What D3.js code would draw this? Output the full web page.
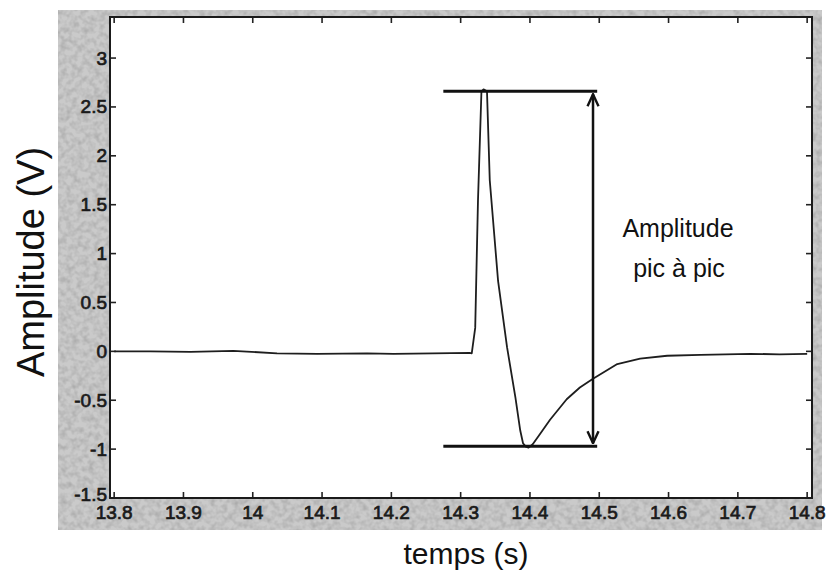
<!DOCTYPE html>
<html>
<head>
<meta charset="utf-8">
<script src="https://cdnjs.cloudflare.com/ajax/libs/d3/7.8.5/d3.min.js"></script>
<style>
body { margin: 0; background: #fff; }
svg { display: block; font-family: "Liberation Sans", Arial, sans-serif; }
</style>
</head>
<body>
<svg></svg>
<script>

// signal (time in s, amplitude in V)
var timeS = [13.800, 13.852, 13.910, 13.972, 14.035, 14.093, 14.165, 14.203, 14.260, 14.313, 14.316,
  14.321, 14.325, 14.330, 14.333, 14.338,
  14.342, 14.354, 14.367, 14.379, 14.386, 14.390, 14.394, 14.398,
  14.404, 14.413, 14.429, 14.453, 14.472, 14.491, 14.526, 14.559, 14.598, 14.646, 14.718, 14.760, 14.800]
var amplitudeV = [0.00, 0.00, -0.005, 0.005, -0.02, -0.025, -0.02, -0.025, -0.02, -0.015, -0.02,
  0.24, 1.54, 2.66, 2.68, 2.66,
  1.75, 0.72, 0.04, -0.47, -0.81, -0.94, -0.975, -0.985,
  -0.95, -0.86, -0.70, -0.49, -0.37, -0.28, -0.13, -0.075, -0.045, -0.035, -0.025, -0.03, -0.025]

var xTicks = [13.8, 13.9, 14.0, 14.1, 14.2, 14.3, 14.4, 14.5, 14.6, 14.7, 14.8]
var xTickLabels = ["13.8", "13.9", "14", "14.1", "14.2", "14.3", "14.4", "14.5", "14.6", "14.7", "14.8"]
var yTicks = [-1.5, -1, -0.5, 0, 0.5, 1, 1.5, 2, 2.5, 3]
var yTickLabels = ["-1.5", "-1", "-0.5", "0", "0.5", "1", "1.5", "2", "2.5", "3"]

// peak-to-peak annotation
var peakLevel = 2.66
var troughLevel = -0.97
var bracketStart = 14.275
var bracketEnd = 14.497
var arrowTime = 14.491

var W = 828, H = 580
var margins = {"top": 17, "left": 110, "bottom": 82, "right": 16}
var width = W - margins.left - margins.right
var height = H - margins.top - margins.bottom

var xScale = d3.scaleLinear().domain([13.794, 14.807]).range([0, width])
var yScale = d3.scaleLinear().domain([-1.5, 3.42]).range([height, 0])

var svg = d3.select("svg").attr("width", W).attr("height", H)

var defs = svg.append("defs")
var grain = defs.append("filter").attr("id", "grain")
  .attr("x", 0).attr("y", 0).attr("width", "100%").attr("height", "100%")
grain.append("feTurbulence").attr("type", "fractalNoise")
  .attr("baseFrequency", 0.18).attr("numOctaves", 2).attr("seed", 7)
grain.append("feColorMatrix").attr("type", "matrix")
  .attr("values", "0 0 0 0 0.4  0 0 0 0 0.4  0 0 0 0 0.4  1.8 0 0 0 -0.66")

defs.append("marker").attr("id", "head")
  .attr("viewBox", "0 0 14 14").attr("refX", 13).attr("refY", 7)
  .attr("markerWidth", 14).attr("markerHeight", 14)
  .attr("markerUnits", "userSpaceOnUse").attr("orient", "auto-start-reverse")
  .append("path").attr("d", "M1,1.5 L13,7 L1,12.5")
  .attr("fill", "none").attr("stroke", "#111").attr("stroke-width", 2.4)

// scanned grey frame round the axes
svg.append("rect").attr("x", 58).attr("y", 10).attr("width", W - 64).attr("height", 520)
  .attr("fill", "#cacaca")
svg.append("rect").attr("x", 58).attr("y", 10).attr("width", W - 64).attr("height", 520)
  .attr("filter", "url(#grain)")

var g = svg.append("g").attr("transform", "translate(" + margins.left + "," + margins.top + ")")

g.append("rect").attr("width", width).attr("height", height).attr("fill", "#fff")

// ticks on all four sides, pointing in
var tickLen = 6
g.append("g").selectAll("line").data(xTicks).enter().append("line")
  .attr("x1", function(d){return xScale(d)}).attr("x2", function(d){return xScale(d)})
  .attr("y1", height).attr("y2", height - tickLen)
g.append("g").selectAll("line").data(xTicks).enter().append("line")
  .attr("x1", function(d){return xScale(d)}).attr("x2", function(d){return xScale(d)})
  .attr("y1", 0).attr("y2", tickLen)
g.append("g").selectAll("line").data(yTicks).enter().append("line")
  .attr("x1", 0).attr("x2", tickLen)
  .attr("y1", function(d){return yScale(d)}).attr("y2", function(d){return yScale(d)})
g.append("g").selectAll("line").data(yTicks).enter().append("line")
  .attr("x1", width).attr("x2", width - tickLen)
  .attr("y1", function(d){return yScale(d)}).attr("y2", function(d){return yScale(d)})
g.selectAll("g line").attr("stroke", "#222").attr("stroke-width", 1.6)

g.append("rect").attr("width", width).attr("height", height)
  .attr("fill", "none").attr("stroke", "#1a1a1a").attr("stroke-width", 2)

// tick labels look heavy in the scan, so a thin stroke thickens them
g.append("g").selectAll("text").data(xTicks).enter().append("text")
  .attr("x", function(d){return xScale(d)}).attr("y", height + 21)
  .attr("text-anchor", "middle").attr("font-size", 19)
  .attr("fill", "#1a1a1a").attr("stroke", "#1a1a1a").attr("stroke-width", 0.7)
  .text(function(d, i){return xTickLabels[i]})

g.append("g").selectAll("text").data(yTicks).enter().append("text")
  .attr("x", -3).attr("y", function(d, i){return yScale(d) + (i == 0 ? 3 : 6.5)})
  .attr("text-anchor", "end").attr("font-size", 19)
  .attr("fill", "#1a1a1a").attr("stroke", "#1a1a1a").attr("stroke-width", 0.7)
  .text(function(d, i){return yTickLabels[i]})

// the signal
var signal = timeS.map(function(t, i){return [t, amplitudeV[i]]})
var line = d3.line().x(function(d){return xScale(d[0])}).y(function(d){return yScale(d[1])})
g.append("path").datum(signal).attr("d", line)
  .attr("fill", "none").attr("stroke", "#1e1e1e").attr("stroke-width", 1.8)
  .attr("stroke-linejoin", "round")

// peak-to-peak bracket
g.append("line").attr("x1", xScale(bracketStart)).attr("x2", xScale(bracketEnd))
  .attr("y1", yScale(peakLevel)).attr("y2", yScale(peakLevel))
  .attr("stroke", "#111").attr("stroke-width", 3)
g.append("line").attr("x1", xScale(bracketStart)).attr("x2", xScale(bracketEnd))
  .attr("y1", yScale(troughLevel)).attr("y2", yScale(troughLevel))
  .attr("stroke", "#111").attr("stroke-width", 3)
g.append("line").attr("x1", xScale(arrowTime)).attr("x2", xScale(arrowTime))
  .attr("y1", yScale(peakLevel) + 3).attr("y2", yScale(troughLevel) - 3)
  .attr("stroke", "#111").attr("stroke-width", 2.5)
  .attr("marker-start", "url(#head)").attr("marker-end", "url(#head)")

g.append("text").attr("x", 568).attr("y", 220).attr("text-anchor", "middle")
  .attr("font-size", 25).attr("fill", "#111").text("Amplitude")
g.append("text").attr("x", 569).attr("y", 260).attr("text-anchor", "middle")
  .attr("font-size", 25).attr("fill", "#111").text("pic à pic")

// axis titles
svg.append("text").attr("x", 466).attr("y", 564).attr("text-anchor", "middle")
  .attr("font-size", 30).attr("fill", "#111").text("temps (s)")
svg.append("text").attr("transform", "translate(44,262) rotate(-90)")
  .attr("text-anchor", "middle").attr("font-size", 38).attr("fill", "#111")
  .text("Amplitude (V)")

</script>
</body>
</html>
